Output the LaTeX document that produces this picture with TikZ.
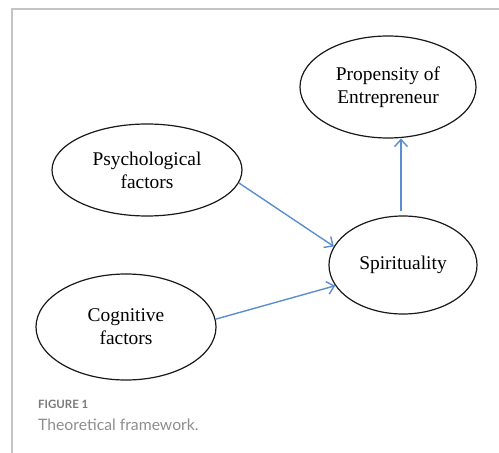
\documentclass[tikz,border=0pt]{standalone}
\usepackage{fontspec}
\setmainfont{Liberation Serif}
\newfontfamily\capfont{Lato}
\usetikzlibrary{shapes.geometric,arrows.meta}
\definecolor{arrowblue}{HTML}{5B8ED0}
\definecolor{framegrey}{HTML}{C4C4C4}
\definecolor{capgrey}{HTML}{7A7A7A}
\tikzset{
  concept/.style={ellipse, draw=black!90, line width=1.2bp, inner sep=0pt,
    align=center, font=\fontsize{19.5}{23}\selectfont},
  link/.style={draw=arrowblue, line width=1.4bp,
    -{Straight Barb[length=7bp,width=13bp,line width=1.4bp]}},
  frameline/.style={draw=framegrey, line width=1.2bp},
  capsmall/.style={anchor=west, inner sep=0pt, text=capgrey,
    font=\capfont\bfseries\fontsize{11.5}{13}\selectfont},
  captext/.style={anchor=west, inner sep=0pt, text=capgrey!85,
    font=\capfont\fontsize{15.8}{18}\selectfont}
}
\begin{document}
\begin{tikzpicture}[x=1bp,y=-1bp]
\useasboundingbox (0,0) rectangle (499,453);
\fill[white] (0,0) rectangle (499,453);
% frame
\coordinate (fl) at (12,453);
\coordinate (fc) at (12,9);
\coordinate (fr) at (499,9);
\draw[frameline] (fl) -- (fc) -- (fr);
% nodes
\node[concept, minimum width=176bp, minimum height=102bp] (prop) at (388,87) {Propensity of\\Entrepreneur};
\node[concept, minimum width=190bp, minimum height=92bp] (psych) at (147,170) {Psychological\\factors};
\node[concept, minimum width=148bp, minimum height=98bp] (spirit) at (403,265) {Spirituality};
\node[concept, minimum width=180bp, minimum height=106bp] (cog) at (126,327) {Cognitive\\factors};
% connectors
\draw[link] (psych.-8) -- (spirit.165);
\draw[link] (cog.5) -- (spirit.197);
\draw[link, shorten <=4bp] ([xshift=-2bp]spirit.north) -- ([xshift=-2bp]spirit.north |- prop.south);
% caption
\node[capsmall] (fig) at (38,404) {FIGURE 1};
\node[captext] (cap) at (38,425) {Theoretical framework.};
\end{tikzpicture}
\end{document}
